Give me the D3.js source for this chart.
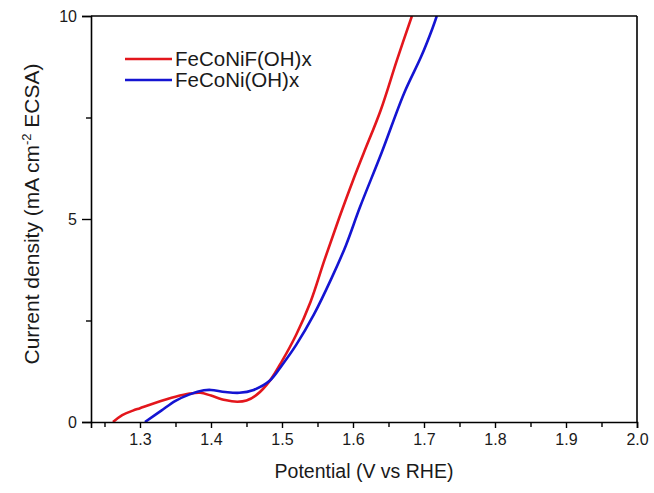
<!DOCTYPE html>
<html>
<head>
<meta charset="utf-8">
<script src="https://cdn.jsdelivr.net/npm/d3@7"></script>
<style>
  html, body { margin: 0; padding: 0; background: #fff; }
  svg { display: block; font-family: "Liberation Sans", Arial, sans-serif; }
</style>
</head>
<body>
<svg id="chart" width="654" height="493"></svg>
<script>
// ---- data ----
const seriesNames = ["FeCoNiF(OH)x", "FeCoNi(OH)x"];
const seriesColors = ["#e3161c", "#1414d2"];

const redPotential = [1.262, 1.275, 1.29, 1.30, 1.32, 1.35, 1.37, 1.385, 1.40, 1.42, 1.437, 1.45, 1.465, 1.483, 1.50, 1.52, 1.54, 1.56, 1.58, 1.60, 1.615, 1.639, 1.662, 1.683];
const redCurrent   = [0.0, 0.17, 0.28, 0.34, 0.46, 0.62, 0.70, 0.72, 0.65, 0.54, 0.50, 0.53, 0.68, 1.02, 1.50, 2.15, 2.95, 4.00, 5.00, 5.95, 6.62, 7.68, 8.92, 10.0];

const bluePotential = [1.307, 1.33, 1.35, 1.37, 1.39, 1.40, 1.42, 1.44, 1.46, 1.483, 1.50, 1.52, 1.545, 1.57, 1.59, 1.61, 1.64, 1.672, 1.696, 1.712, 1.718];
const blueCurrent   = [0.0, 0.28, 0.52, 0.68, 0.78, 0.79, 0.74, 0.72, 0.79, 1.02, 1.40, 1.90, 2.65, 3.55, 4.35, 5.30, 6.62, 8.10, 9.00, 9.70, 10.0];

const xTicks = [1.3, 1.4, 1.5, 1.6, 1.7, 1.8, 1.9, 2.0];
const xMinorTicks = [1.25, 1.35, 1.45, 1.55, 1.65, 1.75, 1.85, 1.95];
const yTicks = [0, 5, 10];
const yMinorTicks = [2.5, 7.5];
const xDomain = [1.231, 2.0];
const yDomain = [0, 10];
const xTitle = "Potential (V vs RHE)";

// ---- layout ----
const svg = d3.select("#chart");
const L = 91, R = 637, T = 16, B = 422;

const x = d3.scaleLinear().domain(xDomain).range([L, R]);
const y = d3.scaleLinear().domain(yDomain).range([B, T]);

svg.append("defs").append("clipPath").attr("id", "clip")
  .append("rect").attr("x", L).attr("y", T).attr("width", R - L).attr("height", B - T);

// curves
const line = d3.line().x(d => x(d[0])).y(d => y(d[1])).curve(d3.curveCatmullRom.alpha(0.5));
const series = [
  d3.zip(redPotential, redCurrent),
  d3.zip(bluePotential, blueCurrent)
];
const plot = svg.append("g").attr("clip-path", "url(#clip)");
series.forEach((s, i) => {
  plot.append("path").datum(s)
    .attr("d", line)
    .attr("fill", "none")
    .attr("stroke", seriesColors[i])
    .attr("stroke-width", 2.6)
    .attr("stroke-linejoin", "round");
});

// frame top/right
svg.append("line").attr("x1", L).attr("x2", R).attr("y1", T).attr("y2", T)
  .attr("stroke", "#000").attr("stroke-width", 1.6);
svg.append("line").attr("x1", R).attr("x2", R).attr("y1", T).attr("y2", B)
  .attr("stroke", "#000").attr("stroke-width", 1.6);

// x axis
svg.append("g").attr("transform", `translate(0,${B})`)
  .call(d3.axisBottom(x).tickValues(xTicks).tickFormat(d3.format(".1f")).tickSize(6).tickPadding(6));
const xMinor = svg.append("g").attr("transform", `translate(0,${B})`)
  .call(d3.axisBottom(x).tickValues(xMinorTicks).tickFormat("").tickSize(5));
xMinor.select(".domain").remove();

// y axis
svg.append("g").attr("transform", `translate(${L},0)`)
  .call(d3.axisLeft(y).tickValues(yTicks).tickSize(9).tickPadding(5));
const yMinor = svg.append("g").attr("transform", `translate(${L},0)`)
  .call(d3.axisLeft(y).tickValues(yMinorTicks).tickFormat("").tickSize(5));
yMinor.select(".domain").remove();

svg.selectAll(".domain").attr("stroke", "#000").attr("stroke-width", 1.6);
svg.selectAll(".tick line").attr("stroke", "#000").attr("stroke-width", 1.4);
svg.selectAll(".tick text").attr("fill", "#1a1a1a")
  .style("font-size", "16px").style("font-family", "'Liberation Sans', Arial, sans-serif");

// axis titles
svg.append("text").attr("x", (L + R) / 2).attr("y", 478)
  .attr("text-anchor", "middle").attr("fill", "#1a1a1a")
  .style("font-size", "19.5px").text(xTitle);

const yt = svg.append("text")
  .attr("transform", `translate(39,214) rotate(-90)`)
  .attr("text-anchor", "middle").attr("fill", "#1a1a1a")
  .style("font-size", "21px");
yt.append("tspan").text("Current density (mA cm");
yt.append("tspan").attr("dy", -8).style("font-size", "13px").text("-2");
yt.append("tspan").attr("dy", 8).text(" ECSA)");

// legend
const legY = [59, 80];
seriesNames.forEach((n, i) => {
  svg.append("line").attr("x1", 125).attr("x2", 172).attr("y1", legY[i]).attr("y2", legY[i])
    .attr("stroke", seriesColors[i]).attr("stroke-width", 2.6);
  svg.append("text").attr("x", 175).attr("y", legY[i] + 7)
    .attr("fill", "#1a1a1a").style("font-size", "20.5px").text(n);
});
</script>
</body>
</html>
